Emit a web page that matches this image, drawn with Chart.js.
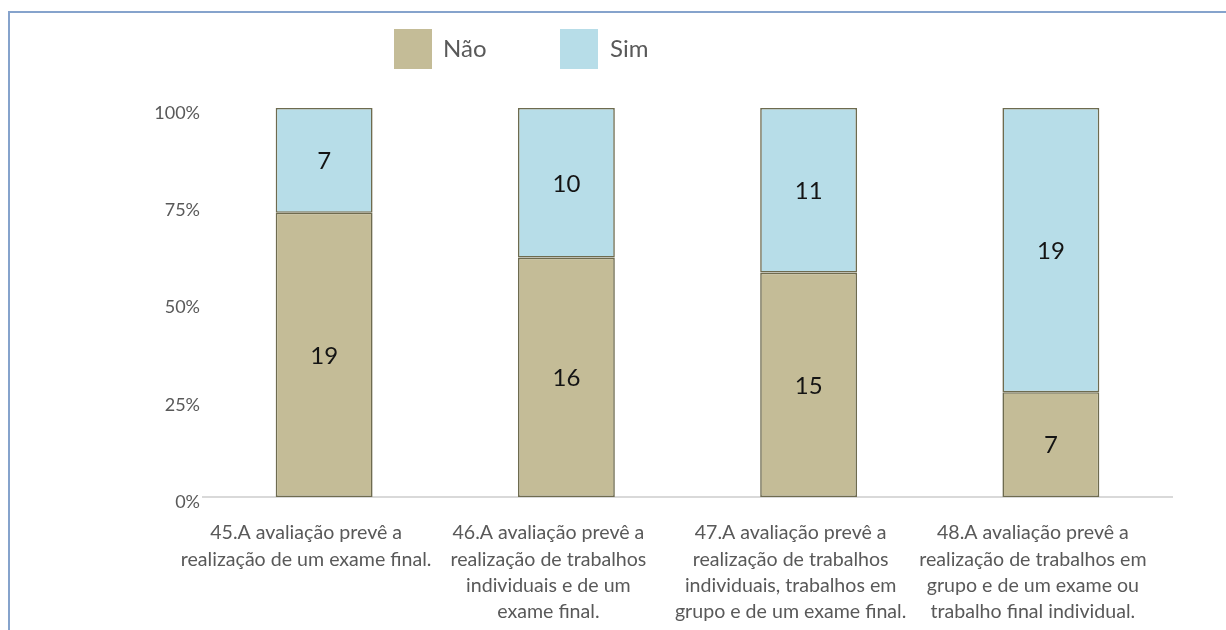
<!DOCTYPE html>
<html>
<head>
<meta charset="utf-8">
<script src="https://cdn.jsdelivr.net/npm/chart.js@4/dist/chart.umd.min.js"></script>
<style>
  html, body { margin: 0; padding: 0; background: #fff; }
  #wrap { position: relative; width: 1226px; height: 630px; overflow: hidden; }
  #frame { position: absolute; left: 8px; top: 11px; width: 1300px; height: 700px;
           border-left: 2px solid #86a3cc; border-top: 2px solid #86a3cc; }
  canvas { position: absolute; left: 0; top: 0; }
  .lg-box { position: absolute; width: 38px; height: 40px; }
  .lg-txt { position: absolute; font-family: Lato, sans-serif; font-size: 24px; color: #595959; line-height: 40px; }
</style>
</head>
<body>
<div id="wrap">
  <div id="frame"></div>
  <canvas id="c" width="1226" height="630"></canvas>
  <div id="legend"></div>
</div>
<script>
const categories = [
  ["45.A avaliação prevê a", "realização de um exame final."],
  ["46.A avaliação prevê a", "realização de trabalhos", "individuais e de um", "exame final."],
  ["47.A avaliação prevê a", "realização de trabalhos", "individuais, trabalhos em", "grupo e de um exame final."],
  ["48.A avaliação prevê a", "realização de trabalhos em", "grupo e de um exame ou", "trabalho final individual."]
];
const seriesNames = ["Não", "Sim"];
const naoValues = [19, 16, 15, 7];
const simValues = [7, 10, 11, 19];
const yTickLabels = ["0%", "25%", "50%", "75%", "100%"];
const seriesColors = ["#c4bc97", "#b7dde8"];

const total = naoValues[0] + simValues[0];

// HTML legend built from the series names
const legendPos = [[394, 443], [560, 610]];
const legend = document.getElementById('legend');
seriesNames.forEach((name, i) => {
  const b = document.createElement('div');
  b.className = 'lg-box';
  b.style.left = legendPos[i][0] + 'px';
  b.style.top = '29px';
  b.style.background = seriesColors[i];
  legend.appendChild(b);
  const t = document.createElement('div');
  t.className = 'lg-txt';
  t.style.left = legendPos[i][1] + 'px';
  t.style.top = '28px';
  t.textContent = name;
  legend.appendChild(t);
});

const valueLabels = {
  id: 'valueLabels',
  afterDatasetsDraw(chart) {
    const ctx = chart.ctx;
    ctx.save();
    ctx.font = '24px Lato, sans-serif';
    ctx.fillStyle = '#141414';
    ctx.textAlign = 'center';
    ctx.textBaseline = 'middle';
    chart.data.datasets.forEach((ds, di) => {
      const meta = chart.getDatasetMeta(di);
      meta.data.forEach((el, i) => {
        const p = el.getProps(['x', 'y', 'base'], true);
        ctx.fillText(String(ds.data[i]), p.x, (p.y + p.base) / 2 + 1);
      });
    });
    ctx.restore();
  }
};

new Chart(document.getElementById('c'), {
  type: 'bar',
  data: {
    labels: categories,
    datasets: [
      { label: seriesNames[0], data: naoValues, backgroundColor: seriesColors[0],
        borderColor: '#6e6b4f', borderWidth: 1.6, borderSkipped: false },
      { label: seriesNames[1], data: simValues, backgroundColor: seriesColors[1],
        borderColor: '#6e6b4f', borderWidth: 1.6, borderSkipped: false }
    ]
  },
  options: {
    responsive: false,
    animation: false,
    categoryPercentage: 1,
    barPercentage: 0.40,
    layout: { padding: { left: 100, right: 54, top: 108, bottom: 0 } },
    plugins: { legend: { display: false }, tooltip: { enabled: false } },
    scales: {
      x: {
        stacked: true,
        grid: { display: false, drawTicks: false },
        border: { display: true, color: '#d9d9d9', width: 2 },
        ticks: {
          color: '#595959',
          font: { family: 'Lato, sans-serif', size: 19.6, lineHeight: 1.34 },
          padding: 23,
          labelOffset: -18,
          maxRotation: 0,
          autoSkip: false
        },
        afterFit(scale) { scale.height = 133; }
      },
      y: {
        stacked: true,
        min: 0,
        max: total,
        grid: { display: false, drawTicks: false },
        border: { display: false },
        afterBuildTicks(scale) {
          scale.ticks = yTickLabels.map((_, i) => ({ value: i * total / (yTickLabels.length - 1) }));
        },
        ticks: {
          color: '#595959',
          font: { family: 'Lato, sans-serif', size: 18 },
          padding: 3,
          labelOffset: 5,
          callback(value, index) { return yTickLabels[index]; }
        },
        afterFit(scale) { scale.width = 103; }
      }
    }
  },
  plugins: [valueLabels]
});
</script>
</body>
</html>
